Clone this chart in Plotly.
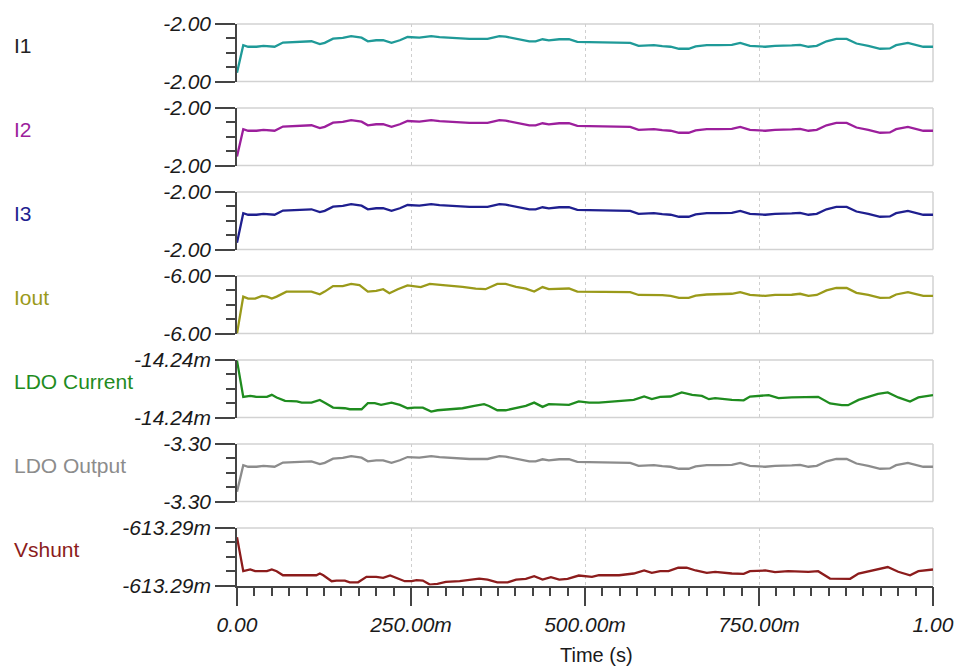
import plotly.graph_objects as go

# ---------------- data ----------------
t_i = [0.000, 0.009, 0.016, 0.028, 0.038, 0.047, 0.054, 0.066, 0.100, 0.107,
       0.119, 0.126, 0.138, 0.152, 0.164, 0.172, 0.179, 0.188, 0.200, 0.210,
       0.222, 0.234, 0.245, 0.262, 0.279, 0.291, 0.319, 0.334, 0.360, 0.377,
       0.386, 0.401, 0.420, 0.429, 0.439, 0.448, 0.463, 0.477, 0.489, 0.506,
       0.565, 0.577, 0.587, 0.599, 0.611, 0.623, 0.635, 0.649, 0.659, 0.675,
       0.692, 0.711, 0.723, 0.737, 0.759, 0.773, 0.797, 0.809, 0.821, 0.833,
       0.847, 0.861, 0.876, 0.890, 0.907, 0.924, 0.938, 0.947, 0.964, 0.979,
       0.986, 1.000]

i1 = [-2.00278, -1.99894, -1.99916, -1.99916, -1.99904, -1.99916, -1.99916, -1.99858,
      -1.99849, -1.99840, -1.99880, -1.99862, -1.99803, -1.99794, -1.99768, -1.99781, -1.99790, -1.99840,
      -1.99826, -1.99826, -1.99862, -1.99826, -1.99781, -1.99790, -1.99768, -1.99781, -1.99794, -1.99808,
      -1.99808, -1.99768, -1.99776, -1.99803, -1.99840, -1.99840, -1.99812, -1.99826, -1.99812, -1.99812,
      -1.99849, -1.99853, -1.99862, -1.99904, -1.99904, -1.99894, -1.99908, -1.99916, -1.99944, -1.99944,
      -1.99912, -1.99894, -1.99894, -1.99890, -1.99862, -1.99904, -1.99916, -1.99904, -1.99898, -1.99890,
      -1.99916, -1.99904, -1.99840, -1.99808, -1.99808, -1.99871, -1.99904, -1.99944, -1.99939, -1.99894,
      -1.99862, -1.99904, -1.99916, -1.99916]

i2 = [-2.00272, -1.99894, -1.99916, -1.99916, -1.99904, -1.99916, -1.99916, -1.99858,
      -1.99849, -1.99840, -1.99880, -1.99862, -1.99803, -1.99794, -1.99768, -1.99781, -1.99790, -1.99840,
      -1.99826, -1.99826, -1.99862, -1.99826, -1.99781, -1.99790, -1.99768, -1.99781, -1.99794, -1.99808,
      -1.99808, -1.99768, -1.99776, -1.99803, -1.99840, -1.99840, -1.99812, -1.99826, -1.99812, -1.99812,
      -1.99849, -1.99853, -1.99862, -1.99904, -1.99904, -1.99894, -1.99908, -1.99916, -1.99944, -1.99944,
      -1.99912, -1.99894, -1.99894, -1.99890, -1.99862, -1.99904, -1.99916, -1.99904, -1.99898, -1.99890,
      -1.99916, -1.99904, -1.99840, -1.99808, -1.99808, -1.99871, -1.99904, -1.99944, -1.99939, -1.99894,
      -1.99862, -1.99904, -1.99916, -1.99916]

i3 = [-2.00304, -1.99894, -1.99916, -1.99916, -1.99904, -1.99916, -1.99916, -1.99858,
      -1.99849, -1.99840, -1.99880, -1.99862, -1.99803, -1.99794, -1.99768, -1.99781, -1.99790, -1.99840,
      -1.99826, -1.99826, -1.99862, -1.99826, -1.99781, -1.99790, -1.99768, -1.99781, -1.99794, -1.99808,
      -1.99808, -1.99768, -1.99776, -1.99803, -1.99840, -1.99840, -1.99812, -1.99826, -1.99812, -1.99812,
      -1.99849, -1.99853, -1.99862, -1.99904, -1.99904, -1.99894, -1.99908, -1.99916, -1.99944, -1.99944,
      -1.99912, -1.99894, -1.99894, -1.99890, -1.99862, -1.99904, -1.99916, -1.99904, -1.99898, -1.99890,
      -1.99916, -1.99904, -1.99840, -1.99808, -1.99808, -1.99871, -1.99904, -1.99944, -1.99939, -1.99894,
      -1.99862, -1.99904, -1.99916, -1.99916]

ldo_output = [-3.30264, -3.29894, -3.29916, -3.29916, -3.29904, -3.29916, -3.29916, -3.29858,
              -3.29849, -3.29840, -3.29880, -3.29862, -3.29803, -3.29794, -3.29768, -3.29781, -3.29790, -3.29840,
              -3.29826, -3.29826, -3.29862, -3.29826, -3.29781, -3.29790, -3.29768, -3.29781, -3.29794, -3.29808,
              -3.29808, -3.29768, -3.29776, -3.29803, -3.29840, -3.29840, -3.29812, -3.29826, -3.29812, -3.29812,
              -3.29849, -3.29853, -3.29862, -3.29904, -3.29904, -3.29894, -3.29908, -3.29916, -3.29944, -3.29944,
              -3.29912, -3.29894, -3.29894, -3.29890, -3.29862, -3.29904, -3.29916, -3.29904, -3.29898, -3.29890,
              -3.29916, -3.29904, -3.29840, -3.29808, -3.29808, -3.29871, -3.29904, -3.29944, -3.29939, -3.29894,
              -3.29862, -3.29904, -3.29916, -3.29916]

t_iout = [0.000, 0.009, 0.016, 0.026, 0.036, 0.043, 0.050, 0.057, 0.071, 0.107,
          0.119, 0.126, 0.138, 0.152, 0.164, 0.176, 0.188, 0.200, 0.210, 0.219,
          0.231, 0.245, 0.264, 0.277, 0.296, 0.324, 0.343, 0.357, 0.374, 0.386,
          0.401, 0.415, 0.427, 0.439, 0.448, 0.463, 0.477, 0.489, 0.503,
          0.565, 0.577, 0.587, 0.599, 0.611, 0.623, 0.635, 0.649, 0.659, 0.675,
          0.692, 0.711, 0.723, 0.737, 0.759, 0.773, 0.797, 0.809, 0.821, 0.833,
          0.847, 0.861, 0.876, 0.890, 0.907, 0.924, 0.938, 0.947, 0.964, 0.979,
          0.986, 1.000]

iout = [-6.0120, -5.9966, -5.9974, -5.9974, -5.9963, -5.9966, -5.9974, -5.9966, -5.9945, -5.9945,
        -5.9956, -5.9945, -5.9922, -5.9922, -5.9913, -5.9918, -5.9945, -5.9942, -5.9935, -5.9952,
        -5.9935, -5.9919, -5.9926, -5.9913, -5.9918, -5.9925, -5.9933, -5.9935, -5.9913, -5.9913,
        -5.9925, -5.9933, -5.9945, -5.9926, -5.9935, -5.9932, -5.9932, -5.9945, -5.9945,
        -5.9947, -5.9959, -5.9959, -5.9957, -5.9960, -5.9963, -5.9971, -5.9971, -5.9962, -5.9957,
        -5.9957, -5.9954, -5.9947, -5.9959, -5.9963, -5.9959, -5.9958, -5.9954, -5.9963, -5.9959,
        -5.9940, -5.9930, -5.9930, -5.9950, -5.9959, -5.9971, -5.9970, -5.9957, -5.9947, -5.9959,
        -5.9963, -5.9963]

t_ldo = [0.000, 0.009, 0.019, 0.028, 0.043, 0.050, 0.057, 0.069, 0.086, 0.093,
         0.107, 0.119, 0.128, 0.138, 0.155, 0.162, 0.179, 0.188, 0.198, 0.207,
         0.222, 0.234, 0.245, 0.255, 0.267, 0.279, 0.288, 0.305, 0.324, 0.341,
         0.355, 0.362, 0.374, 0.386, 0.401, 0.415, 0.427, 0.439, 0.448, 0.463,
         0.477, 0.491, 0.506, 0.520, 0.549, 0.570, 0.585, 0.596, 0.608, 0.623,
         0.639, 0.654, 0.668, 0.678, 0.687, 0.711, 0.728, 0.737, 0.764, 0.778,
         0.797, 0.821, 0.835, 0.852, 0.869, 0.878, 0.893, 0.907, 0.921, 0.935,
         0.950, 0.967, 0.979, 1.000]

ldo_current_mA = [-14.23608, -14.24112, -14.24098, -14.24112, -14.24112, -14.24084, -14.24120, -14.24168, -14.24176, -14.24192,
                  -14.24192, -14.24154, -14.24204, -14.24261, -14.24270, -14.24284, -14.24284, -14.24200, -14.24200, -14.24224,
                  -14.24192, -14.24224, -14.24270, -14.24261, -14.24261, -14.24316, -14.24298, -14.24280, -14.24270, -14.24238,
                  -14.24214, -14.24238, -14.24298, -14.24298, -14.24270, -14.24238, -14.24192, -14.24251, -14.24214, -14.24224,
                  -14.24224, -14.24176, -14.24192, -14.24192, -14.24168, -14.24154, -14.24107, -14.24144, -14.24112, -14.24107,
                  -14.24051, -14.24084, -14.24098, -14.24144, -14.24130, -14.24154, -14.24160, -14.24107, -14.24088, -14.24130,
                  -14.24120, -14.24120, -14.24112, -14.24204, -14.24228, -14.24228, -14.24154, -14.24112, -14.24072, -14.24051,
                  -14.24120, -14.24176, -14.24120, -14.24088]

t_vs = [0.000, 0.009, 0.019, 0.026, 0.043, 0.050, 0.057, 0.066, 0.086, 0.114,
        0.119, 0.124, 0.136, 0.143, 0.155, 0.162, 0.174, 0.186, 0.200, 0.210,
        0.220, 0.229, 0.241, 0.251, 0.258, 0.267, 0.277, 0.288, 0.300, 0.320,
        0.334, 0.348, 0.360, 0.374, 0.389, 0.401, 0.415, 0.427, 0.439, 0.451,
        0.463, 0.475, 0.491, 0.510, 0.520, 0.549, 0.570, 0.585, 0.596, 0.608,
        0.620, 0.634, 0.646, 0.659, 0.675, 0.687, 0.711, 0.728, 0.737, 0.759,
        0.773, 0.792, 0.821, 0.835, 0.852, 0.869, 0.881, 0.893, 0.907, 0.921,
        0.935, 0.950, 0.967, 0.979, 1.000]

vshunt_mV = [-613.28728, -613.29200, -613.29176, -613.29200, -613.29200, -613.29176, -613.29200, -613.29256, -613.29256, -613.29256,
             -613.29232, -613.29256, -613.29339, -613.29330, -613.29330, -613.29354, -613.29354, -613.29278, -613.29278, -613.29292,
             -613.29260, -613.29292, -613.29339, -613.29339, -613.29325, -613.29330, -613.29386, -613.29376, -613.29349, -613.29339,
             -613.29316, -613.29302, -613.29316, -613.29354, -613.29354, -613.29316, -613.29306, -613.29269, -613.29316, -613.29283,
             -613.29316, -613.29306, -613.29260, -613.29278, -613.29256, -613.29256, -613.29232, -613.29190, -613.29222, -613.29200,
             -613.29200, -613.29152, -613.29152, -613.29190, -613.29222, -613.29208, -613.29232, -613.29236, -613.29200, -613.29190,
             -613.29213, -613.29200, -613.29208, -613.29200, -613.29302, -613.29306, -613.29306, -613.29232, -613.29200, -613.29168,
             -613.29142, -613.29208, -613.29256, -613.29200, -613.29176]

names = ["I1", "I2", "I3", "Iout", "LDO Current", "LDO Output", "Vshunt"]
y_ranges = [(-2.004, -1.996), (-2.004, -1.996), (-2.004, -1.996), (-6.012, -5.988),
            (-14.244, -14.236), (-3.304, -3.296), (-613.294, -613.286)]
y_tick_labels = [("-2.00", "-2.00"), ("-2.00", "-2.00"), ("-2.00", "-2.00"), ("-6.00", "-6.00"),
                 ("-14.24m", "-14.24m"), ("-3.30", "-3.30"), ("-613.29m", "-613.29m")]
x_ticks = [0.0, 0.25, 0.5, 0.75, 1.0]
x_tick_labels = ["0.00", "250.00m", "500.00m", "750.00m", "1.00"]
x_title = "Time (s)"

series_x = [t_i, t_i, t_i, t_iout, t_ldo, t_i, t_vs]
series_y = [i1, i2, i3, iout, ldo_current_mA, ldo_output, vshunt_mV]
line_colors = ["#1f9a98", "#9c1f9c", "#1f1f8f", "#9a9a1a", "#1f8c1f", "#8c8c8c", "#8c1c1c"]
label_colors = ["#222222", "#9c1f9c", "#1f1f8f", "#9a9a1a", "#1f8c1f", "#8c8c8c", "#8c1c1c"]

# ---------------- layout geometry ----------------
W, H = 966, 666
M_L, M_R, M_T, M_B = 237, 31, 20, 80
plot_h = H - M_T - M_B
panel_step = 84.6
panel_h = 58
FONT = "Liberation Sans, Arial, sans-serif"
AX = "#444444"
BORDER = "#d2d2d2"
TICK_SIZE = 21

fig = go.Figure()
n = len(names)
annotations = []
shapes = []
layout_axes = {}
for k in range(n):
    idx = k + 1
    sx = "" if idx == 1 else str(idx)
    top_px = M_T + panel_step * k
    bot_px = min(top_px + panel_h, H - M_B)
    dom = [max(0.0, (H - M_B - bot_px) / plot_h), min(1.0, (H - M_B - top_px) / plot_h)]
    fig.add_trace(go.Scatter(x=series_x[k], y=series_y[k], mode="lines",
                             line=dict(color=line_colors[k], width=2.3),
                             xaxis="x" + sx, yaxis="y" + sx, showlegend=False,
                             hoverinfo="skip"))
    lo, hi = y_ranges[k]
    layout_axes["yaxis" + sx] = dict(
        domain=dom, range=[lo, hi], anchor="x" + sx,
        tickmode="array", tickvals=[lo, hi], ticktext=[y_tick_labels[k][0], y_tick_labels[k][1]],
        ticks="outside", ticklen=20, tickcolor=AX, tickwidth=1.5,
        showline=True, linecolor=AX, linewidth=1.5,
        showgrid=False, zeroline=False,
        tickfont=dict(family=FONT, size=TICK_SIZE, color="#1a1a1a", style="italic"),
        minor=dict(tickmode="array", tickvals=[lo + (hi - lo) * j / 4 for j in (1, 2, 3)],
                   ticks="outside", ticklen=9, tickcolor=AX, tickwidth=1.5, showgrid=False),
        fixedrange=True,
    )
    xa = dict(domain=[0, 1], range=[0, 1], anchor="y" + sx,
              tickmode="array", tickvals=x_ticks,
              showgrid=True, gridcolor="#cfcfcf", griddash="dot", gridwidth=1.3,
              zeroline=False, fixedrange=True)
    if idx == n:
        xa.update(ticktext=x_tick_labels, ticks="outside", ticklen=19, tickcolor=AX, tickwidth=1.5,
                  showline=True, linecolor=AX, linewidth=1.5,
                  tickfont=dict(family=FONT, size=TICK_SIZE, color="#1a1a1a", style="italic"),
                  minor=dict(dtick=0.025, tick0=0, ticks="outside", ticklen=9,
                             tickcolor=AX, tickwidth=1.5, showgrid=False))
    else:
        xa.update(showticklabels=False, ticks="", showline=False, matches="x" + str(n))
    layout_axes["xaxis" + sx] = xa
    xr, yr = "x" + sx + " domain", "y" + sx + " domain"
    edges = [(0, 1, 1, 1), (1, 0, 1, 1)]          # top edge, right edge
    if idx != n:
        edges.append((0, 0, 1, 0))                 # bottom edge
    for (x0, y0, x1, y1) in edges:
        shapes.append(dict(type="line", xref=xr, yref=yr, x0=x0, y0=y0, x1=x1, y1=y1,
                           line=dict(color=BORDER, width=1.5), layer="below"))
    annotations.append(dict(text=names[k], xref="paper", yref=yr,
                            x=(11 - M_L) / (W - M_L - M_R), y=0.63, xanchor="left", yanchor="middle",
                            showarrow=False, font=dict(family=FONT, size=21, color=label_colors[k])))

# mid ticks between major x ticks (taller minor ticks)
layout_axes["xaxis8"] = dict(overlaying="x" + str(n), anchor="y" + str(n), range=[0, 1],
                             tickmode="array", tickvals=[0.125, 0.375, 0.625, 0.875],
                             ticks="outside", ticklen=13, tickcolor=AX, tickwidth=1.5,
                             showticklabels=False, showgrid=False, showline=False,
                             zeroline=False, fixedrange=True, side="bottom")

annotations.append(dict(text=x_title, xref="paper", yref="paper",
                        x=(598 - M_L) / (W - M_L - M_R), y=(H - M_B - 655) / plot_h,
                        xanchor="center", yanchor="middle", showarrow=False,
                        font=dict(family=FONT, size=20, color="#1a1a1a")))

fig.update_layout(width=W, height=H, margin=dict(l=M_L, r=M_R, t=M_T, b=M_B),
                  plot_bgcolor="white", paper_bgcolor="white", showlegend=False,
                  annotations=annotations, shapes=shapes, **layout_axes)

fig.write_html("out.html", config={"displayModeBar": False})
